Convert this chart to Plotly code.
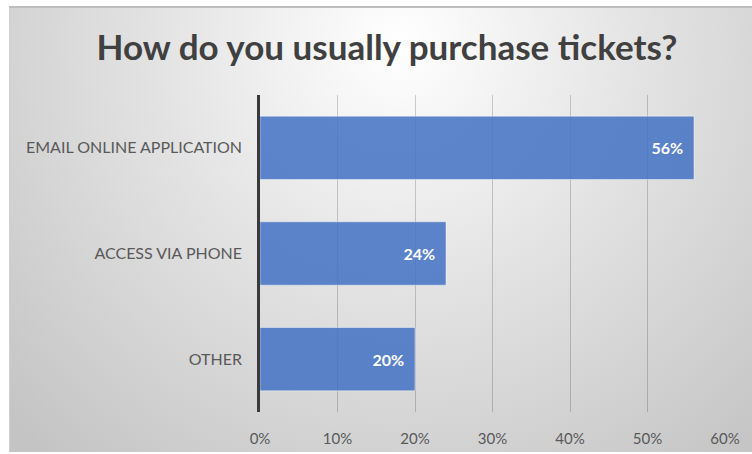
import base64
import plotly.graph_objects as go

# Survey answers, listed top to bottom
categories = ["EMAIL ONLINE APPLICATION", "ACCESS VIA PHONE", "OTHER"]
shares = [0.56, 0.24, 0.20]
tick_values = [0, 0.1, 0.2, 0.3, 0.4, 0.5, 0.6]
tick_labels = ["0%", "10%", "20%", "30%", "40%", "50%", "60%"]
title_text = "How do you usually purchase tickets?"

W, H = 752, 454
ML, MR, MT, MB = 260, 27, 95, 42
PW, PH = W - ML - MR, H - MT - MB

# Radial grey card background, brightest behind the title
svg = f"""<svg xmlns='http://www.w3.org/2000/svg' width='{W}' height='{H}' viewBox='0 0 {W} {H}'>
<defs><radialGradient id='g' gradientUnits='userSpaceOnUse' cx='400' cy='45' r='540'>
<stop offset='0' stop-color='#ffffff'/><stop offset='0.45' stop-color='#e3e3e3'/>
<stop offset='1' stop-color='#c4c4c4'/></radialGradient></defs>
<rect x='9' y='7' width='{W - 9}' height='{H - 9}' fill='url(#g)'/>
<line x1='9' y1='7' x2='{W}' y2='7' stroke='#bdbdbd' stroke-width='2'/>
<line x1='9.5' y1='7' x2='9.5' y2='{H - 2}' stroke='#d0d0d0' stroke-width='1'/>
</svg>"""
bg_src = "data:image/svg+xml;base64," + base64.b64encode(svg.encode()).decode()

fig = go.Figure(
    go.Bar(
        x=shares,
        y=categories,
        orientation="h",
        marker=dict(color="rgba(68,114,196,0.86)", line=dict(color="rgba(255,255,255,0.45)", width=1)),
        width=0.6,
        texttemplate="%{x:.0%}\u00a0\u00a0",
        textposition="inside",
        insidetextanchor="end",
        textfont=dict(family="Lato", size=16, color="#ffffff", weight="bold"),
        cliponaxis=False,
    )
)

fig.add_layout_image(
    source=bg_src,
    xref="paper", yref="paper",
    x=-ML / PW, y=1 + MT / PH,
    sizex=W / PW, sizey=H / PH,
    xanchor="left", yanchor="top",
    sizing="stretch", layer="below",
)

fig.update_layout(
    width=W, height=H,
    margin=dict(l=ML, r=MR, t=MT, b=MB, pad=0),
    paper_bgcolor="#ffffff",
    plot_bgcolor="rgba(0,0,0,0)",
    showlegend=False,
    title=dict(
        text=title_text,
        x=(387 - ML) / PW, xref="paper", xanchor="center",
        y=1 - 48 / H, yref="container", yanchor="middle",
        font=dict(family="Lato", size=35, color="#404040", weight="bold"),
    ),
    xaxis=dict(
        range=[0, 0.6],
        tickvals=tick_values,
        ticktext=tick_labels,
        showgrid=True,
        gridcolor="rgba(0,0,0,0.18)",
        gridwidth=1,
        zeroline=False,
        showline=False,
        ticks="",
        ticklabelstandoff=16,
        automargin=False,
        tickfont=dict(family="Lato", size=15, color="#595959"),
        fixedrange=True,
    ),
    yaxis=dict(
        categoryorder="array",
        categoryarray=categories[::-1],
        showgrid=False,
        zeroline=False,
        showline=True,
        linecolor="#3a3a3a",
        linewidth=2.5,
        ticks="",
        ticklabelstandoff=12,
        automargin=False,
        tickfont=dict(family="Lato", size=16, color="#595959"),
        fixedrange=True,
    ),
)

fig.write_html("out.html")
